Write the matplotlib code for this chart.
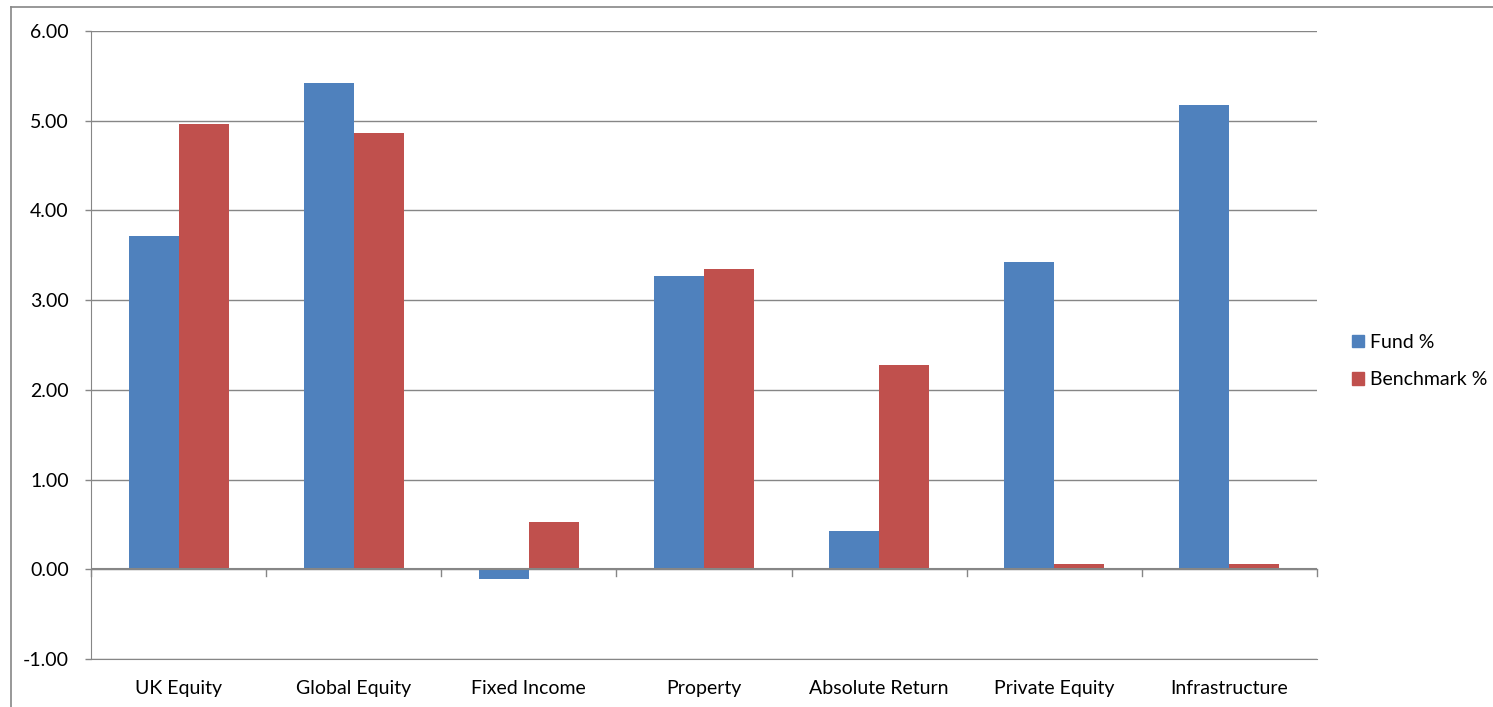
import matplotlib
matplotlib.use("Agg")
import matplotlib.pyplot as plt
import numpy as np
from matplotlib.lines import Line2D
from matplotlib.patches import Patch

categories = ["UK Equity", "Global Equity", "Fixed Income", "Property",
              "Absolute Return", "Private Equity", "Infrastructure"]
fund = [3.72, 5.42, -0.11, 3.27, 0.43, 3.42, 5.17]
benchmark = [4.96, 4.86, 0.53, 3.35, 2.28, 0.06, 0.06]
yticks = [-1.0, 0.0, 1.0, 2.0, 3.0, 4.0, 5.0, 6.0]

plt.rcParams['font.family'] = ['Lato', 'DejaVu Sans']
W, H = 1493, 707
fig = plt.figure(figsize=(W/100, H/100), dpi=100)
ax = fig.add_axes([91/W, 1-659/H, (1317-91)/W, (659-31)/H])

grey = '#868686'
fs = 14
n = len(categories)
x = np.arange(n)
bw = 0.2857
ax.bar(x - bw/2, fund, bw, color='#4F81BD', zorder=3)
ax.bar(x + bw/2, benchmark, bw, color='#C0504D', zorder=3)

ax.set_xlim(-0.5, n - 0.5)
ax.set_ylim(-1, 6)
ax.set_yticks(yticks)
ax.set_yticklabels([f"{v:.2f}" for v in yticks], fontsize=fs)
ax.yaxis.grid(True, color=grey, linewidth=1.0, zorder=0)
ax.tick_params(axis='y', length=4.5, color=grey, width=1, pad=11.5)

ax.set_xticks(x)
ax.set_xticklabels(categories, fontsize=fs)
ax.tick_params(axis='x', length=0, pad=15)
for xb in np.arange(-0.5, n, 1.0):
    ax.plot([xb, xb], [0, -0.07], color=grey, lw=1, clip_on=False, zorder=4)
ax.axhline(0, color=grey, lw=1.5, zorder=4)

for s in ['top', 'right']:
    ax.spines[s].set_visible(False)
ax.spines['left'].set_color(grey)
ax.spines['bottom'].set_color(grey)

handles = [Patch(color='#4F81BD', label='Fund %'), Patch(color='#C0504D', label='Benchmark %')]
fig.legend(handles=handles, loc='center left', bbox_to_anchor=(1352/W, 1-361/H),
           frameon=False, fontsize=fs, handlelength=0.62, handleheight=0.62,
           handletextpad=0.3, labelspacing=1.05, borderpad=0, borderaxespad=0)

# outer chart border (left & top visible)
fig.add_artist(Line2D([11/W, 11/W], [0, 1-7/H], color=grey, lw=1.2, transform=fig.transFigure))
fig.add_artist(Line2D([11/W, 1], [1-7/H, 1-7/H], color=grey, lw=1.2, transform=fig.transFigure))

fig.savefig("out.png", dpi=100, facecolor='white')
